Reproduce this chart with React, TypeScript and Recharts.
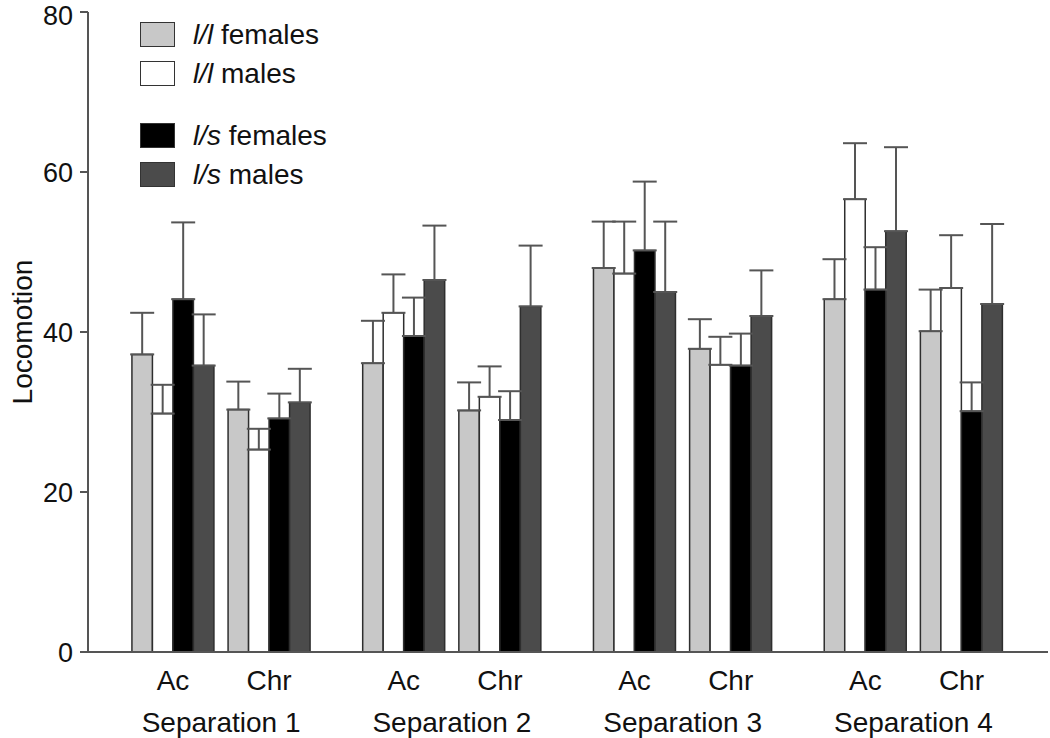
import { BarChart, Bar, XAxis, YAxis, ErrorBar, Legend } from "recharts"

// bar group positions on the x scale (Ac / Chr pairs per separation)
const xPos = [1, 2, 3.4, 4.4, 5.8, 6.8, 8.2, 9.2]
const conditions = ["Ac", "Chr", "Ac", "Chr", "Ac", "Chr", "Ac", "Chr"]
const sepPos = [1.5, 3.9, 6.3, 8.7]
const separations = ["Separation 1", "Separation 2", "Separation 3", "Separation 4"]
const yTicks = [0, 20, 40, 60, 80]

// means and SEM (upward only)
const llFemales = [37.2, 30.3, 36.1, 30.2, 48.0, 37.9, 44.1, 40.1]
const llFemalesErr = [5.2, 3.5, 5.3, 3.5, 5.8, 3.7, 5.0, 5.2]
const llMales = [29.8, 25.3, 42.4, 31.9, 47.3, 35.9, 56.6, 45.5]
const llMalesErr = [3.6, 2.6, 4.8, 3.8, 6.5, 3.5, 7.0, 6.6]
const lsFemales = [44.1, 29.2, 39.5, 29.0, 50.2, 35.8, 45.3, 30.1]
const lsFemalesErr = [9.6, 3.1, 4.8, 3.6, 8.6, 4.0, 5.3, 3.6]
const lsMales = [35.8, 31.2, 46.5, 43.2, 45.0, 42.0, 52.6, 43.5]
const lsMalesErr = [6.4, 4.2, 6.8, 7.6, 8.8, 5.7, 10.5, 10.0]

const series = [
  { key: "llF", geno: "l/l", sex: "females", fill: "#c8c8c8" },
  { key: "llM", geno: "l/l", sex: "males", fill: "#ffffff" },
  { key: "lsF", geno: "l/s", sex: "females", fill: "#000000" },
  { key: "lsM", geno: "l/s", sex: "males", fill: "#4b4b4b" },
]

const data = xPos.map((x, i) => ({
  x,
  cond: conditions[i],
  llF: llFemales[i],
  llFErr: [0, llFemalesErr[i]],
  llM: llMales[i],
  llMErr: [0, llMalesErr[i]],
  lsF: lsFemales[i],
  lsFErr: [0, lsFemalesErr[i]],
  lsM: lsMales[i],
  lsMErr: [0, lsMalesErr[i]],
}))

const FONT = "'Liberation Sans', Arial, sans-serif"
const AXIS = "#555555"
const domain: [number, number] = [0.116, 10.1]

function LegendBox() {
  return (
    <div style={{ fontFamily: FONT, fontSize: 28, color: "#111" }}>
      {series.map((s, i) => (
        <div
          key={s.key}
          style={{ display: "flex", alignItems: "center", height: 39, marginTop: i === 2 ? 23 : 0 }}
        >
          <div
            style={{
              width: 33,
              height: 23,
              background: s.fill,
              border: "1.5px solid #333",
              marginRight: 18,
            }}
          />
          <span>
            <i>{s.geno}</i> {s.sex}
          </span>
        </div>
      ))}
    </div>
  )
}

export default function App() {
  return (
    <div style={{ position: "absolute", left: 0, top: 0, background: "#fff" }}>
      <BarChart
        width={1050}
        height={738}
        data={data}
        margin={{ top: 12, right: 2, left: 0, bottom: 0 }}
        barGap={0}
        barSize={20.5}
      >
        <XAxis
          dataKey="x"
          type="number"
          domain={domain}
          allowDataOverflow
          ticks={xPos}
          tickFormatter={(v: number) => conditions[xPos.indexOf(v)] ?? ""}
          tickLine={false}
          tickSize={0}
          tickMargin={18}
          height={42}
          stroke={AXIS}
          strokeWidth={2}
          tick={{ fill: "#111", fontSize: 28, fontFamily: FONT }}
        />
        <XAxis
          xAxisId="sep"
          dataKey="x"
          type="number"
          domain={domain}
          allowDataOverflow
          ticks={sepPos}
          tickFormatter={(v: number) => separations[sepPos.indexOf(v)] ?? ""}
          axisLine={false}
          tickLine={false}
          tickSize={0}
          tickMargin={18}
          height={44}
          tick={{ fill: "#111", fontSize: 28, fontFamily: FONT }}
        />
        <YAxis
          domain={[0, 80]}
          ticks={yTicks}
          width={88}
          tickSize={8}
          tickMargin={7}
          stroke={AXIS}
          strokeWidth={2}
          tick={{ fill: "#111", fontSize: 27, fontFamily: FONT }}
          label={{
            content: ({ viewBox }: any) => {
              const cy = viewBox.y + viewBox.height / 2
              return (
                <text
                  x={22}
                  y={cy}
                  transform={`rotate(-90, 22, ${cy})`}
                  textAnchor="middle"
                  dominantBaseline="central"
                  fontSize={28}
                  fontFamily={FONT}
                  fill="#111"
                >
                  Locomotion
                </text>
              )
            },
          }}
        />
        <Legend
          layout="horizontal"
          verticalAlign="middle"
          align="center"
          content={() => <LegendBox />}
          wrapperStyle={{ position: "absolute", top: 15, left: 140, width: "auto" }}
        />
        {series.map((s) => (
          <Bar
            key={s.key}
            dataKey={s.key}
            fill={s.fill}
            stroke="#2e2e2e"
            strokeWidth={1.5}
            isAnimationActive={false}
          >
            <ErrorBar
              dataKey={`${s.key}Err`}
              direction="y"
              width={12}
              stroke="#555"
              strokeWidth={2}
            />
          </Bar>
        ))}
      </BarChart>
    </div>
  )
}
